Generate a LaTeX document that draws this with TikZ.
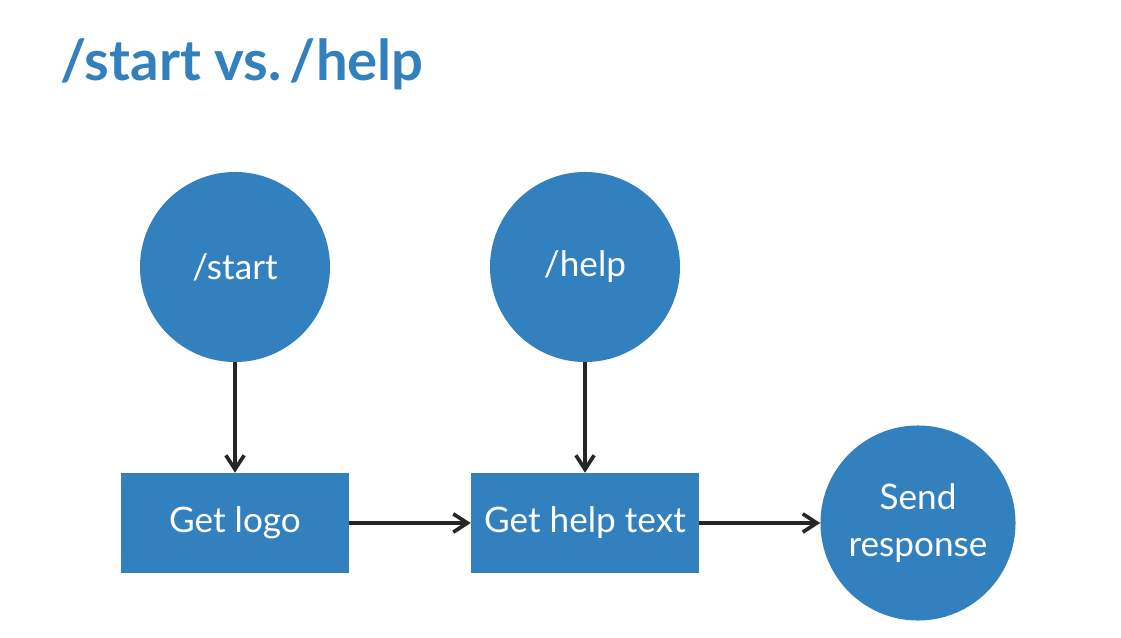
\documentclass[tikz,border=0pt]{standalone}
\usepackage{fontspec}
\setmainfont{Lato}
\usetikzlibrary{arrows.meta}
\definecolor{slideblue}{HTML}{3280BE}
\begin{document}
\begin{tikzpicture}[x=0.025cm,y=-0.025cm]
      \tikzstyle{cmd} = [circle, fill=slideblue, text=white, inner sep=0pt, minimum size=4.75cm, align=center, font=\fontsize{25}{33}\selectfont]
        \tikzstyle{task} = [rectangle, fill=slideblue, text=white, inner sep=0pt, minimum width=5.7cm, minimum height=2.5cm, font=\fontsize{25}{33}\selectfont]
        \tikzstyle{flow} = [draw=black!85, line width=2.6pt, -{Straight Barb[length=10pt, width=13pt, line width=2.6pt]}]
          \useasboundingbox[fill=white] (0,0) rectangle (1121,638);
          \node[anchor=base west, text=slideblue, font=\fontsize{40}{48}\selectfont\bfseries] (title) at (56,80) {/start vs.\kern-4pt\ /help};
          % commands
          \node[cmd] (start) at (235,267) {/start};
          \node[cmd] (help) at (585,267) {/help};
          % steps
          \node[task] (logo) at (235,523) {Get logo};
          \node[task] (helptext) at (585,523) {Get help text};
          \node[cmd, minimum size=4.875cm] (send) at (918,523) {Send\\response};
          \draw[flow] (start) -- (logo);
          \draw[flow] (help) -- (helptext);
          \draw[flow] (logo) -- (helptext);
          \draw[flow] (helptext) -- (send);
        \end{tikzpicture}
\end{document}
